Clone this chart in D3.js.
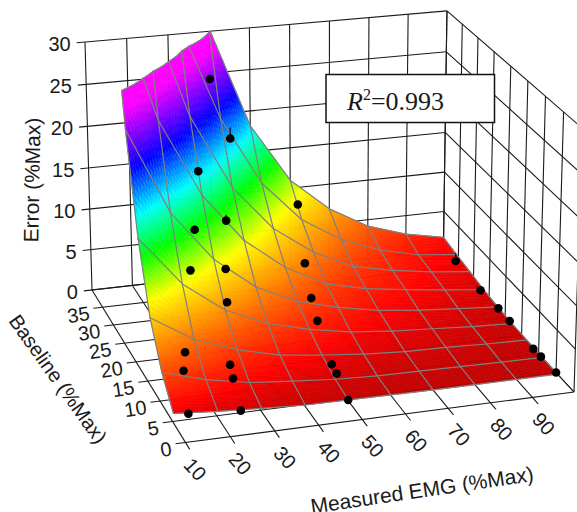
<!DOCTYPE html>
<html>
<head>
<meta charset="utf-8">
<script src="https://cdn.jsdelivr.net/npm/d3@7"></script>
<style>
  html, body { margin: 0; padding: 0; background: #fff; overflow: hidden; }
  text { font-family: "Liberation Sans", Arial, sans-serif; fill: #1a1a1a; }
</style>
</head>
<body>
<div id="chart"></div>
<script>
var chartWidth = 577,
    chartHeight = 512,
    subdiv = 12; // small facets per mesh cell

// tick labels
var emgTicks = [10, 20, 30, 40, 50, 60, 70, 80, 90],
    emgLines = [10, 20, 30, 40, 50, 60, 70, 80, 90, 100],
    baselineTicks = [0, 5, 10, 15, 20, 25, 30, 35],
    baselineLines = [0, 5, 10, 15, 20, 25, 30, 35, 40],
    errorTicks = [0, 5, 10, 15, 20, 25, 30];

// fitted surface (rows = baseline, columns = EMG)
var emgGrid = [10, 20, 30, 40, 50, 60, 70, 80, 90, 100],
    baselineGrid = [4.6, 9, 13.5, 17.9, 22.3, 26.7, 31.2, 35.6, 40];
var errorGrid = [
  [1.1, 0.7, 0.4, 0.15, 0.1, 0.05, 0, 0, 0, 0],
  [3.75, 2.3, 1.35, 0.88, 0.48, 0.26, 0.2, 0.12, 0.05, 0],
  [8.05, 4.96, 3.15, 1.9, 1.3, 0.8, 0.5, 0.4, 0.2, 0.1],
  [15.3, 9.5, 5.85, 3.7, 2.4, 1.5, 1, 0.7, 0.37, 0.15],
  [26, 16, 10, 6.15, 3.85, 2.55, 1.6, 1.05, 0.66, 0.3],
  [40, 25, 15.8, 9.9, 6.1, 3.55, 2.4, 1.7, 1.1, 0.55],
  [58, 37, 23.4, 14.5, 9, 5.55, 3.25, 2.2, 1.45, 0.93],
  [80, 52, 33, 21.1, 12.8, 7.8, 4.8, 2.95, 1.8, 1.28],
  [125, 78, 48, 30.4, 18.2, 11, 6.9, 4.2, 2.65, 1.7]
];

// measured points
var dotEmg = [38.5, 42, 30, 35.7, 26, 22.8, 32.8, 31, 60, 56.2, 54.2, 53.2, 16.8, 15.2, 26.9, 26.4, 13.3, 25.1, 51.2, 51.2, 50, 98.5, 99, 100, 100, 99.8, 99.9, 100],
    dotBaseline = [37.3, 35.1, 28.1, 26.7, 23, 19.4, 22.3, 18.9, 37.1, 28.8, 23.5, 19.8, 11.6, 9.5, 11.2, 9.3, 4.5, 4.4, 11.9, 10.2, 4.6, 34, 26.5, 22.1, 18.6, 11.3, 9.2, 5],
    dotError = [25.3, 18.8, 18.1, 12.5, 13.4, 10.3, 8.7, 6.3, 9.1, 5.4, 3.5, 2.4, 4.5, 3.4, 2.6, 1.9, 0.9, 0.55, 0.85, 0.55, 0.1, 1.2, 0.62, 0.2, 0.15, 0, 0, 0],
    dotStem = [0, 1.3, 0, 0.7, 0, 0, 0.4, 0, 0, 0, 0, 0, 0, 0, 0, 0, 0, 0, 0, 0, 0, 1, 0, 0, 0, 0, 0, 0]; // small line above the point

var colorStops = [0, 1.5, 5.5, 9.5, 13.5, 17.5, 22, 28],
    colorValues = ["#c00000", "#ff0000", "#ff8000", "#ffff00", "#00ff00", "#00ffff", "#0000ff", "#ff00ff"];

var svg = d3.select("#chart")
    .append("svg")
    .attr("width", chartWidth)
    .attr("height", chartHeight);

// unit cube scales
var uScale = d3.scaleLinear().domain([10, 100]).range([0, 1]),
    sScale = d3.scaleLinear().domain([40, 0]).range([0, 1]), // 0 back, 1 front
    tScale = d3.scaleLinear().domain([0, 30]).range([0, 1]);

var color = d3.scaleLinear().domain(colorStops).range(colorValues).clamp(true);

// cube corners on screen, the perspective is solved from them
var A = [92, 290],     // back left floor
    U = [443.4, 250.5], // back right floor
    S = [185.5, 442.5], // front left floor
    US = [574, 392],    // front right floor
    T = [85, 42],       // back left top
    UT = [447, 8];      // back right top

function solve(p00, p10, p11, p01) {
  var dx1 = p10[0] - p11[0], dx2 = p01[0] - p11[0], sx = p00[0] - p10[0] + p11[0] - p01[0],
      dy1 = p10[1] - p11[1], dy2 = p01[1] - p11[1], sy = p00[1] - p10[1] + p11[1] - p01[1],
      den = dx1 * dy2 - dx2 * dy1;
  return [(sx * dy2 - dx2 * sy) / den, (dx1 * sy - sx * dy1) / den];
}
var floorFit = solve(A, U, US, S),
    wallFit = solve(A, U, UT, T),
    gU = floorFit[0], gS = floorFit[1], gT = wallFit[1];

function project(emg, base, err) {
  var u = uScale(emg), s = sScale(base), t = tScale(err),
      w = 1 + gU * u + gS * s + gT * t;
  return [0, 1].map(i => (A[i] + (U[i] * (1 + gU) - A[i]) * u + (S[i] * (1 + gS) - A[i]) * s + (T[i] * (1 + gT) - A[i]) * t) / w);
}

var line = d3.line();

// box grid: floor, back wall and right wall
var gridLines = [];
emgLines.forEach(e => {
  gridLines.push([[e, 40, 0], [e, 40, 30]]); // back wall
  gridLines.push([[e, 40, 0], [e, e < 100 ? -1.6 : 0, 0]]); // floor, runs on as a tick
});
baselineLines.forEach(b => {
  gridLines.push([[100, b, 0], [100, b, 30]]); // right wall
  gridLines.push([[100, b, 0], [b < 40 ? 7.8 : 10, b, 0]]); // floor
});
errorTicks.forEach(z => {
  gridLines.push([[8, 40, z], [100, 40, z]]); // back wall with tick
  gridLines.push([[100, 40, z], [100, 0, z]]); // right wall
});

svg.append("g")
   .selectAll("path")
   .data(gridLines)
   .enter().append("path")
   .attr("d", d => line(d.map(p => project(p[0], p[1], p[2]))))
   .attr("fill", "none")
   .attr("stroke", "#1a1a1a")
   .attr("stroke-width", 1.1);

// surface facets, back to front, cut where the error leaves the box
var facets = [], topEdge = [];

function cell(c, r, a, b) { // bilinear height inside a mesh cell
  var e = emgGrid[c] + (emgGrid[c + 1] - emgGrid[c]) * a,
      k = baselineGrid[r] + (baselineGrid[r + 1] - baselineGrid[r]) * b,
      z0 = errorGrid[r][c] * (1 - a) + errorGrid[r][c + 1] * a,
      z1 = errorGrid[r + 1][c] * (1 - a) + errorGrid[r + 1][c + 1] * a;
  return [e, k, z0 * (1 - b) + z1 * b];
}

function cut(p, q) { // point where a segment crosses the top of the box
  var f = (30 - p[2]) / (q[2] - p[2]);
  return [p[0] + (q[0] - p[0]) * f, p[1] + (q[1] - p[1]) * f, 30];
}

for (var r = baselineGrid.length - 2; r >= 0; r--) {
  for (var c = 0; c < emgGrid.length - 1; c++) {
    for (var j = subdiv - 1; j >= 0; j--) {
      for (var i = 0; i < subdiv; i++) {
        var quad = [cell(c, r, i / subdiv, j / subdiv), cell(c, r, (i + 1) / subdiv, j / subdiv),
                    cell(c, r, (i + 1) / subdiv, (j + 1) / subdiv), cell(c, r, i / subdiv, (j + 1) / subdiv)];
        var poly = [], crossing = [];
        quad.forEach((p, n) => {
          var q = quad[(n + 1) % 4];
          if (p[2] <= 30) poly.push(p);
          if ((p[2] <= 30) != (q[2] <= 30)) {
            var x = cut(p, q);
            poly.push(x);
            crossing.push(x);
          }
        });
        if (poly.length > 2) facets.push(poly);
        if (crossing.length == 2) topEdge.push(crossing);
      }
    }
  }
}

svg.append("g")
   .selectAll("path")
   .data(facets)
   .enter().append("path")
   .attr("d", d => line(d.map(p => project(p[0], p[1], p[2]))) + "Z")
   .attr("fill", d => color(d3.mean(d, p => p[2])))
   .attr("stroke", d => color(d3.mean(d, p => p[2])))
   .attr("stroke-width", 0.6);

// mesh lines
var meshLines = [];
function addMesh(p, q) {
  if (p[2] > 30 && q[2] > 30) return;
  if (q[2] > 30) q = cut(p, q);
  if (p[2] > 30) p = cut(p, q);
  meshLines.push([p, q]);
}
baselineGrid.forEach((b, r) => emgGrid.forEach((e, c) => {
  if (c < emgGrid.length - 1) addMesh([e, b, errorGrid[r][c]], [emgGrid[c + 1], b, errorGrid[r][c + 1]]);
  if (r < baselineGrid.length - 1) addMesh([e, b, errorGrid[r][c]], [e, baselineGrid[r + 1], errorGrid[r + 1][c]]);
}));

svg.append("g")
   .selectAll("path")
   .data(meshLines.concat(topEdge))
   .enter().append("path")
   .attr("d", d => line(d.map(p => project(p[0], p[1], p[2]))))
   .attr("fill", "none")
   .attr("stroke", "#808080")
   .attr("stroke-width", 1.2)
   .attr("stroke-linecap", "round");

// points
var dots = d3.range(dotEmg.length);

svg.append("g")
   .selectAll("path")
   .data(dots.filter(i => dotStem[i] > 0))
   .enter().append("path")
   .attr("d", i => line([project(dotEmg[i], dotBaseline[i], dotError[i]), project(dotEmg[i], dotBaseline[i], dotError[i] + dotStem[i])]))
   .attr("stroke", "#000")
   .attr("stroke-width", 1.1);

svg.append("g")
   .selectAll("circle")
   .data(dots)
   .enter().append("circle")
   .attr("cx", i => project(dotEmg[i], dotBaseline[i], dotError[i])[0])
   .attr("cy", i => project(dotEmg[i], dotBaseline[i], dotError[i])[1])
   .attr("r", 4.3)
   .attr("fill", "#000");

// tick labels
svg.append("g")
   .selectAll("text")
   .data(errorTicks)
   .enter().append("text")
   .attr("x", z => project(8, 40, z)[0] - 6)
   .attr("y", z => project(8, 40, z)[1] + 8)
   .attr("text-anchor", "end")
   .attr("font-size", 20)
   .text(z => z);

svg.append("g")
   .selectAll("text")
   .data(baselineTicks)
   .enter().append("text")
   .attr("transform", b => {
     var p = project(7.8, b, 0);
     return "translate(" + (p[0] - 3) + "," + (p[1] + 11.5) + ") rotate(-9)";
   })
   .attr("text-anchor", "end")
   .attr("font-size", 20)
   .text(b => b);

svg.append("g")
   .selectAll("text")
   .data(emgTicks)
   .enter().append("text")
   .attr("transform", e => {
     var p = project(e, -1.6, 0);
     return "translate(" + (p[0] + 5.5) + "," + (p[1] + 20) + ") rotate(48)";
   })
   .attr("text-anchor", "middle")
   .attr("dy", "0.35em")
   .attr("font-size", 20)
   .text(e => e);

// axis titles
var titles = [
  {text: "Error (%Max)", x: 32, y: 180, angle: -89, size: 21},
  {text: "Baseline (%Max)", x: 58, y: 379, angle: 54.5, size: 20.2},
  {text: "Measured EMG (%Max)", x: 422, y: 490, angle: -8.4, size: 21}
];

svg.append("g")
   .selectAll("text")
   .data(titles)
   .enter().append("text")
   .attr("transform", d => "translate(" + d.x + "," + d.y + ") rotate(" + d.angle + ")")
   .attr("text-anchor", "middle")
   .attr("dy", "0.35em")
   .attr("font-size", d => d.size)
   .text(d => d.text);

// R2 box
svg.append("rect")
   .attr("x", 326)
   .attr("y", 74.5)
   .attr("width", 168.5)
   .attr("height", 48)
   .attr("fill", "#fff")
   .attr("stroke", "#111")
   .attr("stroke-width", 1.5);

var label = svg.append("text")
   .attr("x", 347)
   .attr("y", 110)
   .style("font-family", "'Liberation Serif', 'Times New Roman', serif")
   .attr("font-size", 26);
label.append("tspan").attr("font-style", "italic").text("R");
label.append("tspan").attr("font-size", 16).attr("dy", -10).text("2");
label.append("tspan").attr("dy", 10).text("=0.993");
</script>
</body>
</html>
